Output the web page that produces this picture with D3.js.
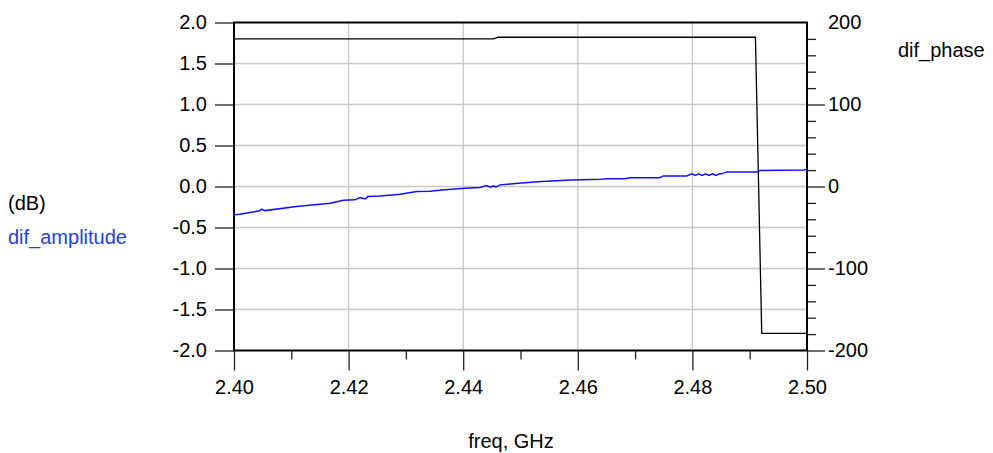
<!doctype html>
<html>
<head>
<meta charset="utf-8">
<script src="https://cdn.jsdelivr.net/npm/d3@7"></script>
<style>
  body { margin: 0; background: #fff; }
  text { font-family: "Liberation Sans", Arial, sans-serif; font-size: 20px; fill: #000; }
</style>
</head>
<body>
<div id="chart"></div>
<script>
// amplitude trace (dB)
var ampFreq = [2.4000, 2.4010, 2.4045, 2.4048, 2.4054, 2.4109, 2.4168, 2.4191, 2.4211, 2.4220,
               2.4229, 2.4234, 2.4255, 2.4290, 2.4319, 2.4342, 2.4368, 2.4403, 2.4429, 2.4441,
               2.4447, 2.4453, 2.4457, 2.4464, 2.4496, 2.4537, 2.4589, 2.4642, 2.4650, 2.4682,
               2.4691, 2.4743, 2.4749, 2.4790, 2.4799, 2.4805, 2.4811, 2.4817, 2.4823, 2.4829,
               2.4835, 2.4841, 2.4847, 2.4851, 2.4860, 2.4912, 2.4918, 2.4994, 2.5000];
var ampDb   = [-0.346, -0.338, -0.297, -0.277, -0.294, -0.245, -0.204, -0.167, -0.163, -0.135,
               -0.151, -0.123, -0.115, -0.094, -0.062, -0.057, -0.041, -0.021, -0.013, 0.011,
               -0.009, 0.007, -0.009, 0.020, 0.040, 0.060, 0.080, 0.089, 0.096, 0.095,
               0.108, 0.108, 0.129, 0.129, 0.154, 0.136, 0.154, 0.136, 0.154, 0.136,
               0.154, 0.136, 0.154, 0.154, 0.178, 0.178, 0.194, 0.202, 0.211];

// phase trace (deg)
var phaseFreq = [2.4000, 2.4453, 2.4461, 2.4910, 2.4921, 2.5000];
var phaseDeg  = [180.0, 180.0, 182.0, 182.0, -179.0, -179.0];

var xTicks = [2.40, 2.42, 2.44, 2.46, 2.48, 2.50];
var xMinor = [2.41, 2.43, 2.45, 2.47, 2.49];
var yTicks = [-2.0, -1.5, -1.0, -0.5, 0.0, 0.5, 1.0, 1.5, 2.0];
var y2Ticks = [-200, -100, 0, 100, 200];
var y2Minor = [-180, -160, -140, -120, -80, -60, -40, -20, 20, 40, 60, 80, 120, 140, 160, 180];

var W = 993, H = 453;
var margin = {top: 22.5, right: 186, bottom: 102.5, left: 234},
    width = W - margin.left - margin.right,
    height = H - margin.top - margin.bottom;

// plain hyphen for negatives, as in the original
function hy(f) { return function(d) { return d3.format(f)(d).replace("\u2212", "-"); }; }

var svg = d3.select("#chart").append("svg")
    .attr("width", W)
    .attr("height", H);

var g = svg.append("g")
    .attr("transform", "translate(" + margin.left + "," + margin.top + ")");

var x = d3.scaleLinear().domain([2.40, 2.50]).range([0, width]);
var y = d3.scaleLinear().domain([-2, 2]).range([height, 0]);
var y2 = d3.scaleLinear().domain([-200, 200]).range([height, 0]);

// grid
g.append("g").selectAll("line").data(xTicks.slice(1, -1)).enter().append("line")
    .attr("x1", function(d) { return x(d); }).attr("x2", function(d) { return x(d); })
    .attr("y1", 0).attr("y2", height)
    .style("stroke", "#c8c8c8").style("stroke-width", 1.3);
g.append("g").selectAll("line").data(yTicks.slice(1, -1)).enter().append("line")
    .attr("y1", function(d) { return y(d); }).attr("y2", function(d) { return y(d); })
    .attr("x1", 0).attr("x2", width)
    .style("stroke", "#c8c8c8").style("stroke-width", 1.3);

// axes
var xAxis = g.append("g")
    .attr("transform", "translate(0," + height + ")")
    .call(d3.axisBottom(x).tickValues(xTicks).tickFormat(d3.format(".2f")).tickSize(20).tickPadding(9));
var xAxisMinor = g.append("g")
    .attr("transform", "translate(0," + height + ")")
    .call(d3.axisBottom(x).tickValues(xMinor).tickFormat("").tickSize(9));

var yAxis = g.append("g")
    .call(d3.axisLeft(y).tickValues(yTicks).tickFormat(hy(".1f")).tickSize(19).tickPadding(8));

var y2Axis = g.append("g")
    .attr("transform", "translate(" + width + ",0)")
    .call(d3.axisRight(y2).tickValues(y2Ticks).tickFormat(hy("d")).tickSize(18).tickPadding(3));
var y2AxisMinor = g.append("g")
    .attr("transform", "translate(" + width + ",0)")
    .call(d3.axisRight(y2).tickValues(y2Minor).tickFormat("").tickSize(9));

[xAxis, xAxisMinor, yAxis, y2Axis, y2AxisMinor].forEach(function(a) {
    a.select(".domain").remove();
    a.selectAll(".tick line").style("stroke", "#222").style("stroke-width", 1.3);
    a.selectAll("text").style("font-size", "20px").style("font-family", "'Liberation Sans', Arial, sans-serif").style("fill", "#000");
});
// no tick on the 200 mark
y2Axis.selectAll(".tick").filter(function(d) { return d === 200; }).select("line").remove();

// frame
g.append("rect")
    .attr("x", 0).attr("y", 0).attr("width", width).attr("height", height)
    .style("fill", "none").style("stroke", "#000").style("stroke-width", 2);

// traces
var ampLine = d3.line()
    .x(function(d, i) { return x(ampFreq[i]); })
    .y(function(d) { return y(d); });
var phaseLine = d3.line()
    .x(function(d, i) { return x(phaseFreq[i]); })
    .y(function(d) { return y2(d); });

g.append("path").datum(phaseDeg)
    .attr("d", phaseLine)
    .style("fill", "none").style("stroke", "#000").style("stroke-width", 1.3);
g.append("path").datum(ampDb)
    .attr("d", ampLine)
    .style("fill", "none").style("stroke", "#1010ff").style("stroke-width", 1.5);

// labels
svg.append("text").attr("x", 8).attr("y", 210).text("(dB)");
svg.append("text").attr("x", 8).attr("y", 244).style("fill", "#2244d0").text("dif_amplitude");
svg.append("text").attr("x", 898).attr("y", 57).text("dif_phase");
svg.append("text").attr("x", 511).attr("y", 448).attr("text-anchor", "middle").text("freq, GHz");
</script>
</body>
</html>
